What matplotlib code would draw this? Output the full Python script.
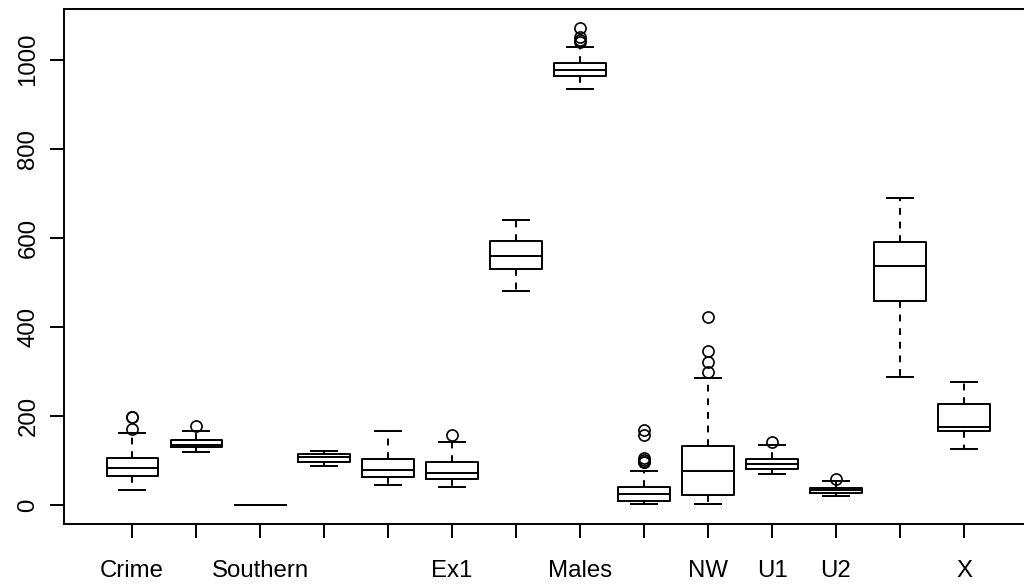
import matplotlib.pyplot as plt

plt.rcParams['font.family'] = ['Liberation Sans', 'DejaVu Sans']

# Five-number summaries per variable (whisker ends, quartiles, median) and outliers
names = ["Crime", "Age", "Southern", "Education", "Ex0", "Ex1", "LF",
         "Males", "Pop", "NW", "U1", "U2", "Wealth", "X"]
tick_labels = ["Crime", "", "Southern", "", "", "Ex1", "",
               "Males", "", "NW", "U1", "U2", "", "X"]
whislo = [34, 119, 0, 87, 45, 41, 480, 934, 3, 2, 70, 20, 288, 126]
q1 = [66, 130, 0, 97.5, 62.5, 58.5, 530.5, 964.5, 10, 24, 80.5, 27.5, 459.5, 165.5]
med = [84, 136, 0, 108, 78, 73, 560, 977, 25, 76, 92, 34, 537, 176]
q3 = [105, 146, 1, 114.5, 104.5, 97, 593, 992, 41.5, 132.5, 104, 38.5, 591.5, 227.5]
whishi = [163, 166, 1, 122, 166, 143, 641, 1029, 77, 286, 135, 54, 689, 276]
fliers = [
    [170, 197, 199],
    [177],
    [],
    [],
    [],
    [157],
    [],
    [1040, 1045, 1052, 1071],
    [96, 98, 102, 107, 157, 168],
    [300, 321, 347, 423],
    [142],
    [58],
    [],
    [],
]

stats = []
for i, n in enumerate(names):
    stats.append(dict(label=n, whislo=whislo[i], q1=q1[i], med=med[i],
                      q3=q3[i], whishi=whishi[i], fliers=fliers[i]))

lw = 1.4
fig = plt.figure(figsize=(10.24, 5.85), dpi=100)
ax = fig.add_axes([64.3 / 1024, 60.7 / 585, 967.5 / 1024, 515.3 / 585])

pos = list(range(1, len(names) + 1))
ax.bxp(stats, positions=pos, widths=0.8, capwidths=0.4,
       boxprops=dict(color='black', linewidth=lw),
       whiskerprops=dict(color='black', linewidth=lw, linestyle=(0, (3.5, 3.5))),
       capprops=dict(color='black', linewidth=lw),
       medianprops=dict(color='black', linewidth=lw),
       flierprops=dict(marker='o', markerfacecolor='none', markeredgecolor='black',
                       markersize=8, markeredgewidth=1.2))

ax.set_xlim(-0.06, 15.06)
ax.set_ylim(-42.8, 1113.8)
ax.set_xticks(pos)
ax.set_xticklabels(tick_labels)
ax.set_yticks(range(0, 1001, 200))
ax.set_yticklabels([str(v) for v in range(0, 1001, 200)], rotation=90, va='center')

for s in ax.spines.values():
    s.set_linewidth(lw)
ax.tick_params(axis='both', length=10.4, width=lw, labelsize=17.3, color='black')
ax.tick_params(axis='x', pad=15.5)
ax.tick_params(axis='y', pad=7.5)

fig.savefig('out.png', dpi=100)
